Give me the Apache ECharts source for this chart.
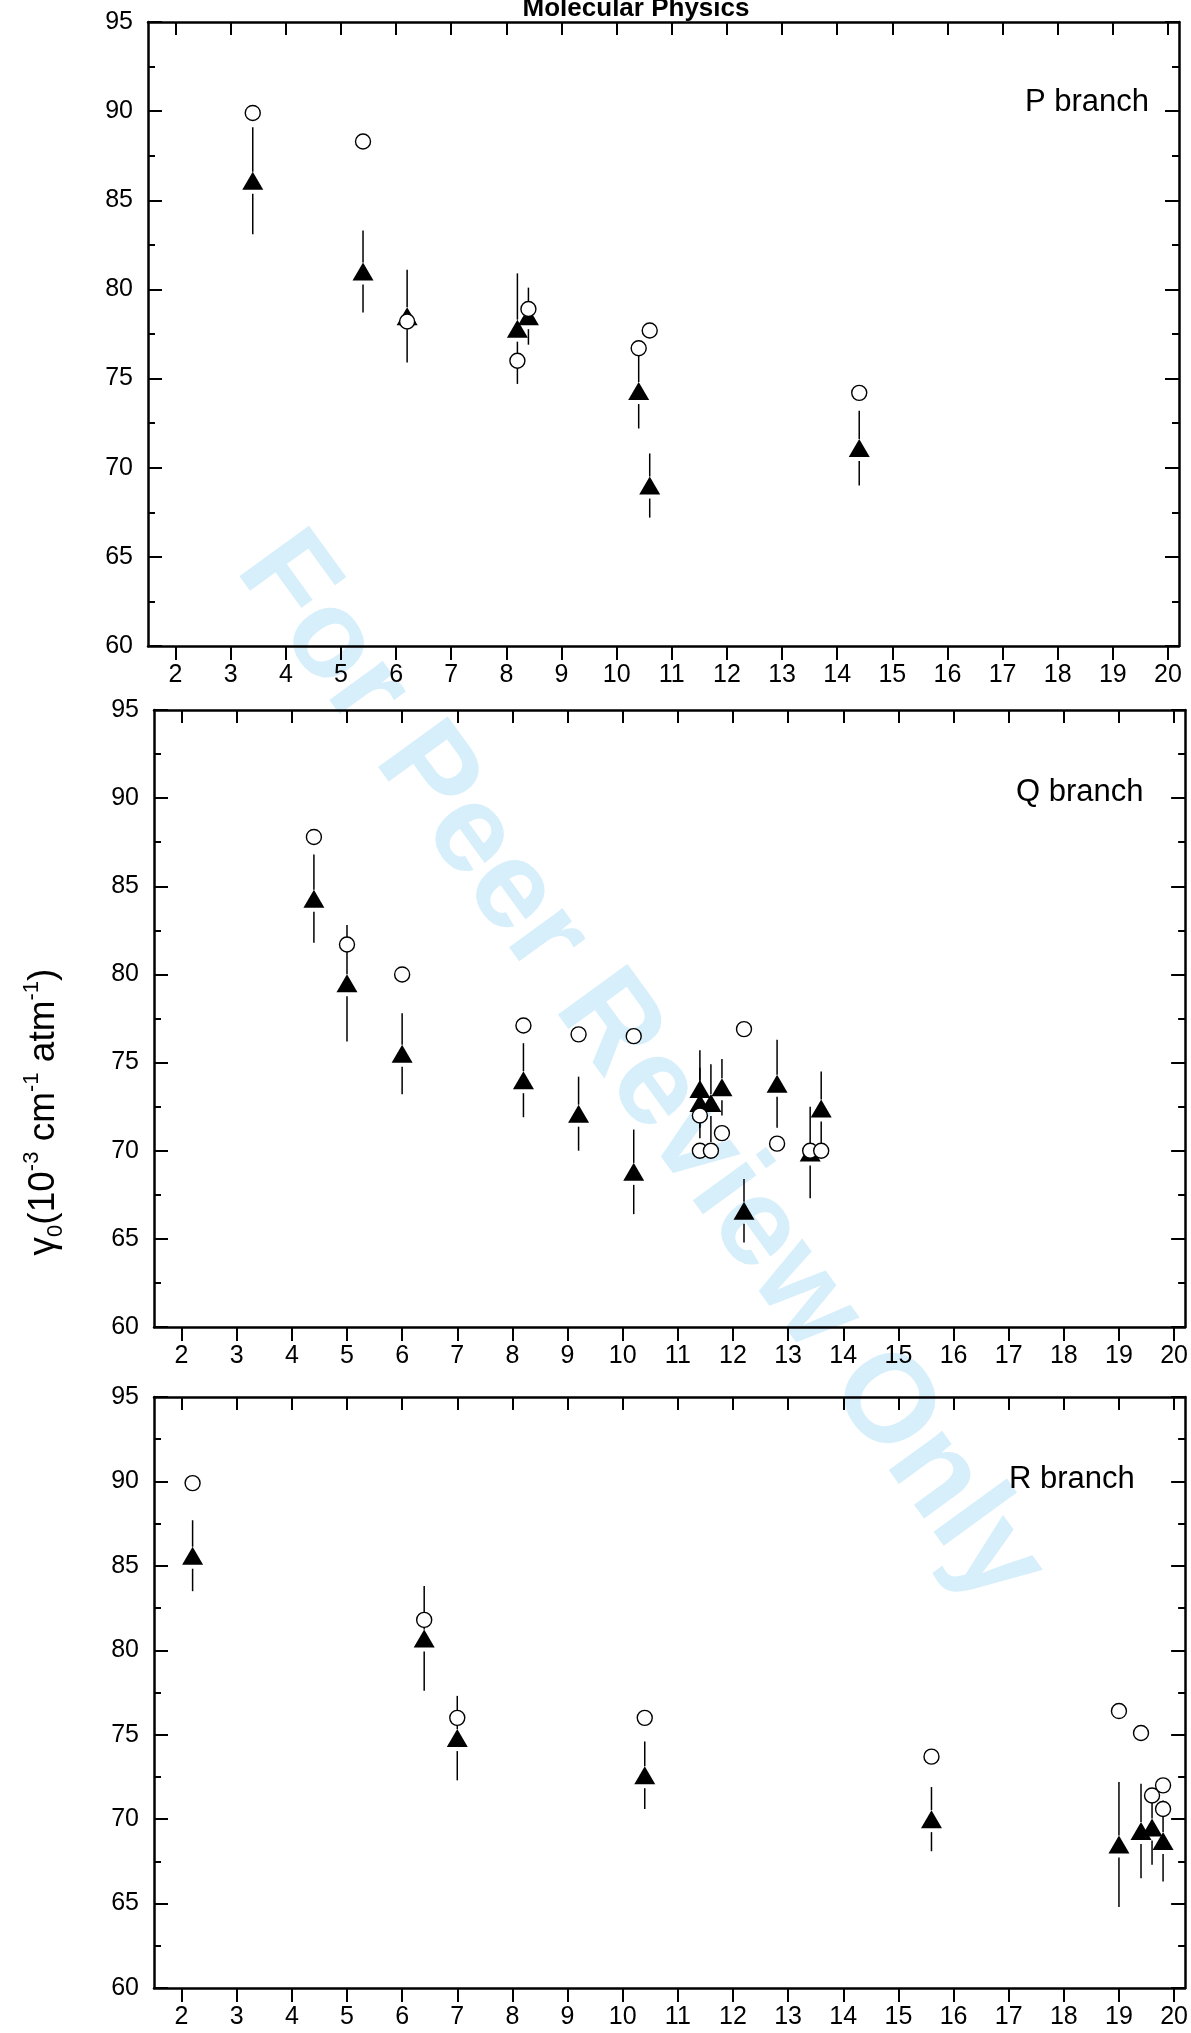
<!DOCTYPE html>
<html>
<head>
<meta charset="utf-8">
<title>Pressure broadening coefficients, P / Q / R branch</title>
<script src="https://cdn.jsdelivr.net/npm/echarts@6.0.0/dist/echarts.min.js"></script>
<style>
  html, body { margin: 0; padding: 0; background: #fff; }
  #chart { width: 1191px; height: 2033px; }
</style>
</head>
<body>
<div id="chart"></div>
<script>
const xTicks = [2, 3, 4, 5, 6, 7, 8, 9, 10, 11, 12, 13, 14, 15, 16, 17, 18, 19, 20];
const branchNames = ['P branch', 'Q branch', 'R branch'];

// P branch
const pCircleX = [3.4, 5.4, 6.2, 8.2, 8.4, 10.4, 10.6, 14.4];
const pCircleY = [89.9, 88.3, 78.2, 76.0, 78.9, 76.7, 77.7, 74.2];
const pTriX = [3.4, 5.4, 6.2, 8.2, 8.4, 10.4, 10.6, 14.4];
const pTriY = [86.1, 81.0, 78.5, 77.8, 78.5, 74.3, 69.0, 71.1];
const pTriErr = [3.0, 2.3, 2.6, 3.1, 1.6, 2.1, 1.8, 2.1];

// Q branch
const qCircleX = [4.4, 5.0, 6.0, 8.2, 9.2, 10.2, 11.4, 11.4, 11.6, 11.8, 12.2, 12.8, 13.4, 13.6];
const qCircleY = [87.8, 81.7, 80.0, 77.1, 76.6, 76.5, 72.0, 70.0, 70.0, 71.0, 76.9, 70.4, 70.0, 70.0];
const qTriX = [4.4, 5.0, 6.0, 8.2, 9.2, 10.2, 11.4, 11.4, 11.6, 11.8, 12.2, 12.8, 13.4, 13.6];
const qTriY = [84.3, 79.5, 75.5, 74.0, 72.1, 68.8, 73.5, 72.7, 72.7, 73.6, 66.6, 73.8, 69.9, 72.4];
const qTriErr = [2.5, 3.3, 2.3, 2.1, 2.1, 2.4, 2.2, 2.0, 2.2, 1.6, 1.8, 2.5, 2.6, 2.1];

// R branch
const rCircleX = [2.2, 6.4, 7.0, 10.4, 15.6, 19.0, 19.4, 19.6, 19.8, 19.8];
const rCircleY = [89.9, 81.8, 76.0, 76.0, 73.7, 76.4, 75.1, 71.4, 72.0, 70.6];
const rTriX = [2.2, 6.4, 7.0, 10.4, 15.6, 19.0, 19.4, 19.6, 19.8];
const rTriY = [85.6, 80.7, 74.8, 72.6, 70.0, 68.5, 69.3, 69.5, 68.7];
const rTriErr = [2.1, 3.1, 2.5, 2.0, 1.9, 3.7, 2.8, 2.2, 2.4];

const panels = [
    { cx: pCircleX, cy: pCircleY, tx: pTriX, ty: pTriY, te: pTriErr },
    { cx: qCircleX, cy: qCircleY, tx: qTriX, ty: qTriY, te: qTriErr },
    { cx: rCircleX, cy: rCircleY, tx: rTriX, ty: rTriY, te: rTriErr }
];

const FONT = '"Liberation Sans", Arial, Helvetica, sans-serif';
const black = '#000';

const grids = [
    { left: 148, top: 22, width: 1031, height: 624 },
    { left: 154, top: 710, width: 1032, height: 617 },
    { left: 154, top: 1397, width: 1032, height: 591 }
];
const branchPos = [[1025, 102], [1016, 792], [1009, 1479]];

function zip(xs, ys, es) {
    return xs.map((x, i) => es ? [x, ys[i], es[i]] : [x, ys[i]]);
}

function axisLine() {
    return { show: true, onZero: false, lineStyle: { color: black, width: 2.5 } };
}

function buildXAxes(i) {
    const base = { gridIndex: i, type: 'value', min: 1.5, max: 20.2, splitLine: { show: false } };
    return [
        Object.assign({}, base, {
            position: 'bottom',
            axisLine: axisLine(),
            axisTick: { show: true, inside: false, length: 14, customValues: xTicks, lineStyle: { color: black, width: 2 } },
            axisLabel: { show: true, customValues: xTicks, fontSize: 25, color: black, fontFamily: FONT, margin: 17 }
        }),
        Object.assign({}, base, {
            position: 'top',
            axisLine: axisLine(),
            axisTick: { show: true, inside: true, length: 13, customValues: xTicks, lineStyle: { color: black, width: 2 } },
            axisLabel: { show: false }
        })
    ];
}

function buildYAxes(i) {
    const base = {
        gridIndex: i, type: 'value', min: 60, max: 95, interval: 5,
        splitLine: { show: false },
        axisLine: axisLine(),
        axisTick: { show: true, inside: true, length: 14, lineStyle: { color: black, width: 2 } },
        minorTick: { show: true, splitNumber: 2, length: 7, lineStyle: { color: black, width: 2 } },
        minorSplitLine: { show: false }
    };
    return [
        Object.assign({}, base, {
            position: 'left',
            axisLabel: { show: true, fontSize: 25, color: black, fontFamily: FONT, margin: 15 }
        }),
        Object.assign({}, base, { position: 'right', axisLabel: { show: false } })
    ];
}

// vertical error bar, with a small gap left open round the triangle
function renderErr(params, api) {
    const x = api.value(0), y = api.value(1), e = api.value(2);
    const top = api.coord([x, y + e]);
    const mid = api.coord([x, y]);
    const bot = api.coord([x, y - e]);
    const gapUp = 9, gapDown = 13;
    const style = { stroke: black, lineWidth: 1.5 };
    const children = [];
    if (mid[1] - gapUp > top[1]) {
        children.push({ type: 'line', shape: { x1: top[0], y1: top[1], x2: mid[0], y2: mid[1] - gapUp }, style: style });
    }
    if (bot[1] > mid[1] + gapDown) {
        children.push({ type: 'line', shape: { x1: mid[0], y1: mid[1] + gapDown, x2: bot[0], y2: bot[1] }, style: style });
    }
    return { type: 'group', children: children };
}

let xAxes = [], yAxes = [], series = [];
panels.forEach((p, i) => {
    xAxes = xAxes.concat(buildXAxes(i));
    yAxes = yAxes.concat(buildYAxes(i));
    series.push({
        type: 'custom', xAxisIndex: 2 * i, yAxisIndex: 2 * i, z: 2,
        renderItem: renderErr, data: zip(p.tx, p.ty, p.te), silent: true
    });
    series.push({
        type: 'scatter', xAxisIndex: 2 * i, yAxisIndex: 2 * i, z: 3,
        symbol: 'triangle', symbolSize: [21, 18],
        itemStyle: { color: black, opacity: 1 }, data: zip(p.tx, p.ty), silent: true
    });
    series.push({
        type: 'scatter', xAxisIndex: 2 * i, yAxisIndex: 2 * i, z: 4,
        symbol: 'circle', symbolSize: 15,
        itemStyle: { color: '#fff', borderColor: black, borderWidth: 1.4, opacity: 1 },
        data: zip(p.cx, p.cy), silent: true
    });
});

const graphics = [
    {
        type: 'text', z: -10, x: 640, y: 1069, rotation: -54 * Math.PI / 180, silent: true,
        style: {
            text: 'For Peer Review Only', font: 'bold 125px ' + FONT, fill: '#d6effb',
            align: 'center', verticalAlign: 'middle', textAlign: 'center', textVerticalAlign: 'middle'
        }
    },
    {
        type: 'text', x: 636, y: 9, silent: true,
        style: {
            text: 'Molecular Physics', font: 'bold 26px ' + FONT, fill: black,
            align: 'center', verticalAlign: 'middle', textAlign: 'center', textVerticalAlign: 'middle'
        }
    },
    {
        type: 'text', x: 44, y: 1112, rotation: Math.PI / 2, silent: true,
        style: {
            text: '{a|γ}{b|0}{a|(10}{c|-3}{a| cm}{c|-1}{a| atm}{c|-1}{a|)}',
            align: 'center', verticalAlign: 'middle', textAlign: 'center', textVerticalAlign: 'middle',
            fill: black,
            rich: {
                a: { fontSize: 37, lineHeight: 46, fontFamily: FONT, fill: black, color: black },
                b: { fontSize: 22, lineHeight: 22, fontFamily: FONT, verticalAlign: 'bottom', fill: black, color: black },
                c: { fontSize: 22, lineHeight: 22, fontFamily: FONT, verticalAlign: 'top', fill: black, color: black }
            }
        }
    }
];
branchNames.forEach((name, i) => {
    graphics.push({
        type: 'text', x: branchPos[i][0], y: branchPos[i][1], silent: true,
        style: {
            text: name, font: '31px ' + FONT, fill: black,
            align: 'left', verticalAlign: 'middle', textAlign: 'left', textVerticalAlign: 'middle'
        }
    });
});

const chart = echarts.init(document.getElementById('chart'));
chart.setOption({
    animation: false,
    backgroundColor: '#fff',
    grid: grids,
    xAxis: xAxes,
    yAxis: yAxes,
    graphic: graphics,
    series: series
});
</script>
</body>
</html>
